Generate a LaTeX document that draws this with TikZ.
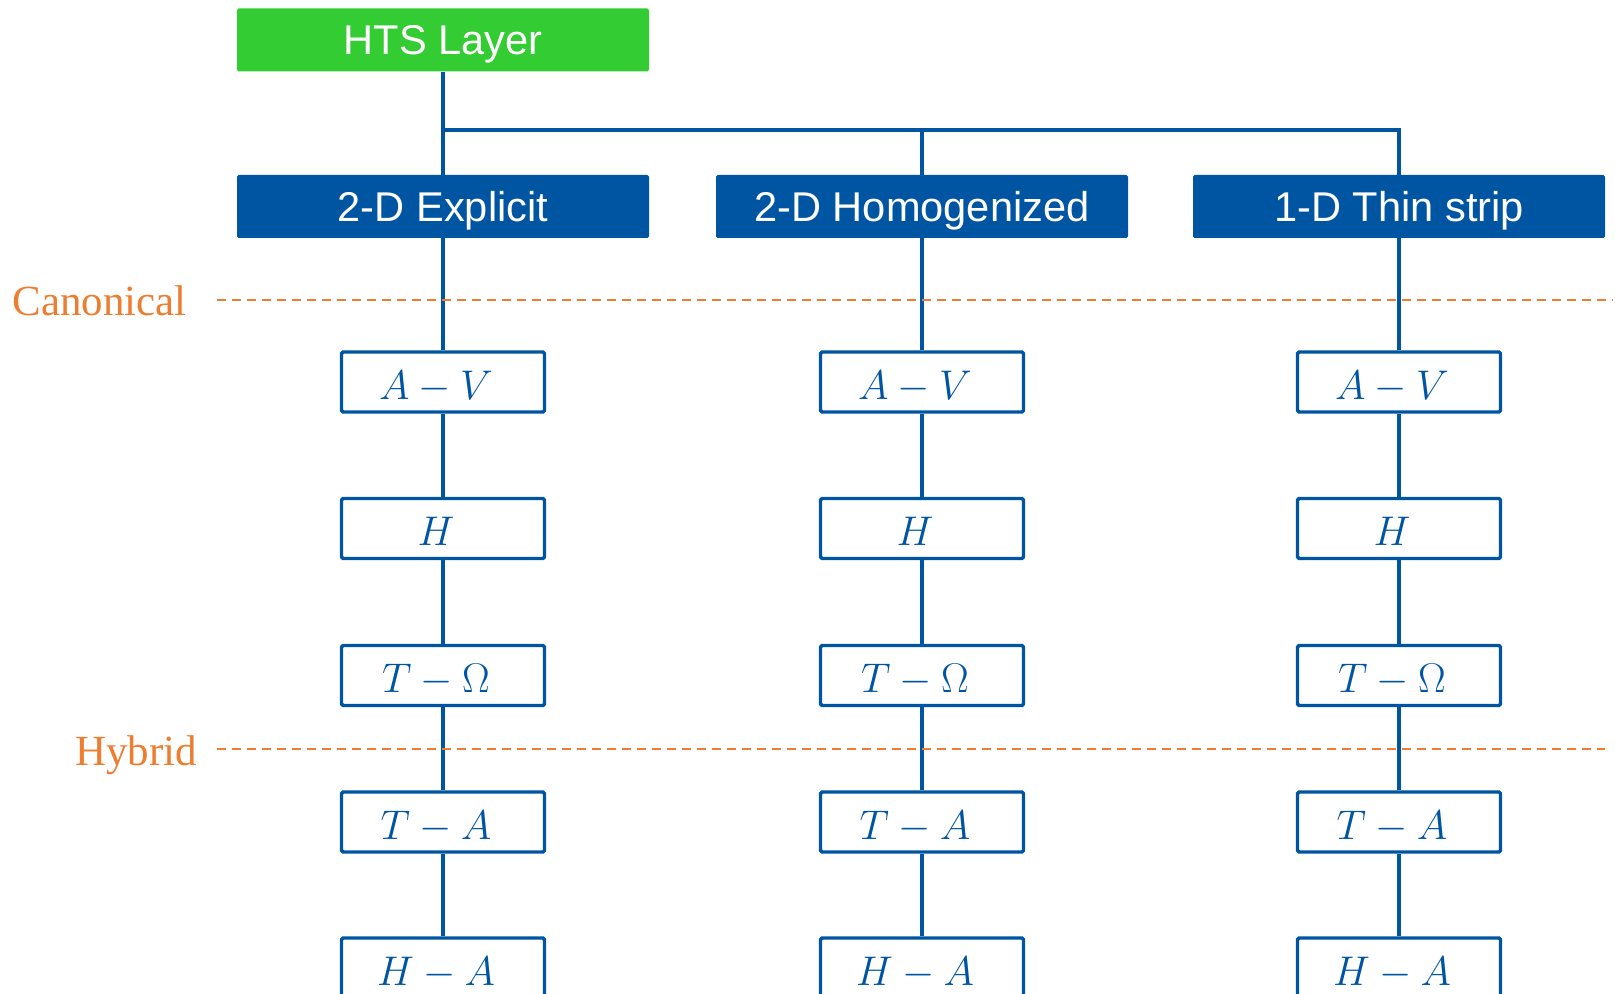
\documentclass[tikz,border=0pt]{standalone}
\usepackage{fontspec}
\newfontfamily\arialf{Liberation Sans}
\newfontfamily\timesf{Liberation Serif}
\definecolor{tblue}{RGB}{0,85,162}
\definecolor{tgreen}{RGB}{51,204,51}
\definecolor{torange}{RGB}{237,125,49}
\begin{document}
\begin{tikzpicture}[x=0.5pt,y=-0.5pt,
  conn/.style={draw=tblue,line width=1.65pt},
  topbox/.style={fill=tgreen,text=white,minimum width=206pt,minimum height=31.5pt,inner sep=0pt,
    rounded corners=0.8pt,text height=15.2pt,text depth=0.4pt,
    font=\arialf\fontsize{20.8pt}{24pt}\selectfont},
  catbox/.style={topbox,fill=tblue},
  formbox/.style={draw=tblue,line width=1.7pt,fill=white,text=tblue,minimum width=101.5pt,
    minimum height=30pt,inner sep=0pt,rounded corners=0.8pt,text height=17pt,text depth=0pt,
    font=\fontsize{21pt}{24pt}\selectfont},
  divider/.style={draw=torange,line width=1.15pt,dash pattern=on 4.5pt off 3pt},
  zone/.style={text=torange,inner sep=0pt,font=\timesf\fontsize{21.5pt}{25pt}\selectfont}]
\useasboundingbox (0,0) rectangle (1615,994);

% top and category boxes
\node[topbox] (hts) at (443,40) {HTS Layer};
\node[catbox] (e2d) at (443,206.5) {2-D Explicit};
\node[catbox] (h2d) at (922,206.5) {2-D Homogenized};
\node[catbox] (t1d) at (1399,206.5) {1-D Thin strip};

% formulation boxes
\foreach \c/\x in {e/443,h/922,t/1399}{
  \node[formbox] (\c1) at (\x,382)   {$A-V$\hspace*{7pt}};
  \node[formbox] (\c2) at (\x,528.5) {$H$\hspace*{7pt}};
  \node[formbox] (\c3) at (\x,675.5) {$T-\Omega$\hspace*{7pt}};
  \node[formbox] (\c4) at (\x,822)   {$T-A$\hspace*{7pt}};
  \node[formbox] (\c5) at (\x,968)   {$H-A$\hspace*{7pt}};
}

% tree connectors
\coordinate (brl) at (443,130);
\coordinate (brm) at (922,130);
\coordinate (brr) at (1399,130);
\draw[conn] (hts) -- (e2d);
\draw[conn] (brl) -- (brr) -- (t1d.north);
\draw[conn] (brm) -- (h2d.north);

\draw[conn] (e2d) -- (e1);
\draw[conn] (h2d) -- (h1);
\draw[conn] (t1d) -- (t1);
\foreach \c in {e,h,t}{
  \draw[conn] (\c1) -- (\c2);
  \draw[conn] (\c2) -- (\c3);
  \draw[conn] (\c3) -- (\c4);
  \draw[conn] (\c4) -- (\c5);
}

% dividers
\coordinate (can0) at (217,300);
\coordinate (can1) at (1613,300);
\coordinate (hyb0) at (217,749);
\coordinate (hyb1) at (1605,749);
\draw[divider] (can0) -- (can1);
\draw[divider] (hyb0) -- (hyb1);
\node[zone,anchor=base west] (canon) at (12,315) {Canonical};
\node[zone,anchor=base west] (hybrid) at (75,765) {Hybrid};
\end{tikzpicture}
\end{document}
